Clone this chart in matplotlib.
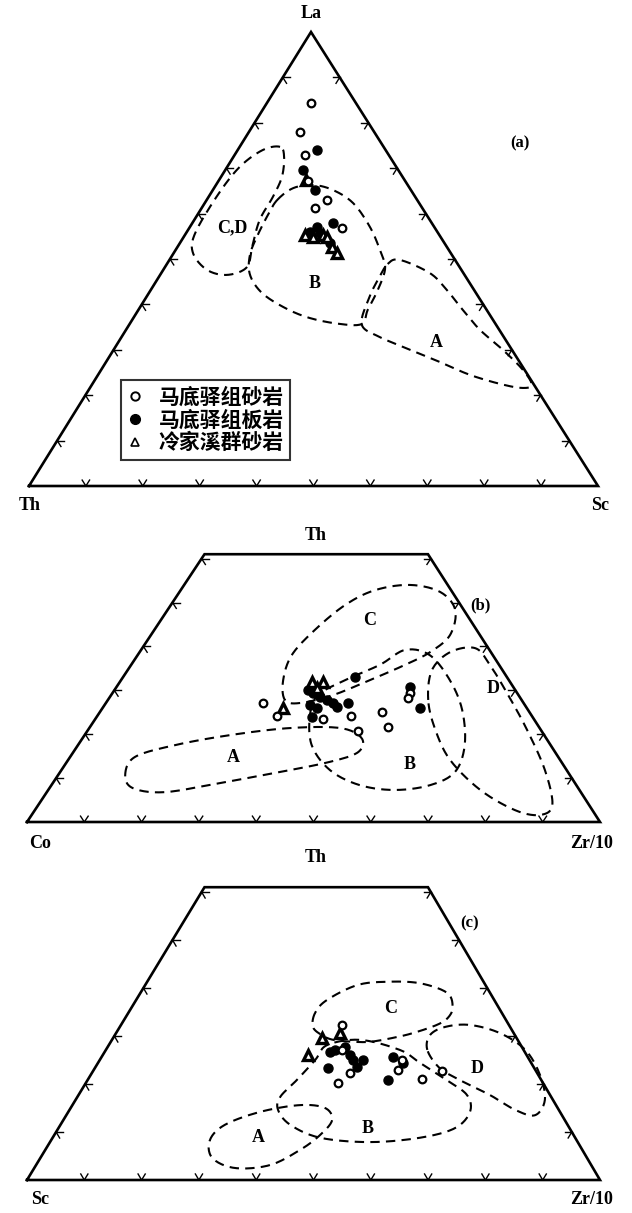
import numpy as np
import matplotlib
matplotlib.use('Agg')
import matplotlib.pyplot as plt
from matplotlib.lines import Line2D

plt.rcParams['font.family'] = ['Noto Sans CJK SC', 'DejaVu Sans']

# ---- sample data, ternary percentages ----
# (a) La-Th-Sc : pairs are (La, Sc)
a_sand = [(84.4, 7.7), (78.0, 9.0), (72.9, 12.4), (67.2, 15.7), (63.0, 21.1),
          (61.2, 19.9), (56.8, 26.8)]
a_slate = [(74.0, 13.9), (69.6, 13.7), (65.2, 17.9), (57.0, 22.3), (57.9, 24.7),
           (55.7, 23.5), (53.5, 26.4), (56.0, 21.7)]
a_ljx = [(67.4, 15.3), (55.3, 21.1), (54.8, 22.7), (55.3, 24.3), (54.8, 25.2),
         (52.6, 27.2), (51.3, 28.7)]

# (b) Th-Co-Zr/10 : pairs are (Th, Zr/10)
b_sand = [(27.1, 27.4), (24.1, 31.4), (23.5, 39.7), (24.1, 44.3), (20.7, 47.2),
          (25.1, 49.2), (21.6, 52.0), (29.4, 51.9), (28.2, 52.1)]
b_slate = [(33.0, 40.5), (30.1, 33.8), (29.4, 35.0), (28.5, 36.7), (27.8, 38.2),
           (27.1, 39.6), (26.2, 40.8), (27.1, 42.3), (26.7, 35.8), (26.0, 37.4),
           (23.9, 37.6), (30.8, 51.2), (26.0, 55.4)]
b_ljx = [(31.9, 33.5), (31.9, 35.5), (30.5, 35.1), (26.0, 31.5)]

# (c) Th-Sc-Zr/10 : pairs are (Th, Zr/10)
c_sand = [(32.3, 38.6), (27.1, 41.2), (22.3, 45.0), (20.2, 44.0), (25.0, 52.7),
          (22.9, 53.1), (21.0, 58.3), (22.7, 60.9)]
c_slate = [(26.7, 39.3), (27.1, 40.0), (27.7, 41.4), (26.0, 43.1), (25.0, 44.2),
           (25.0, 45.9), (23.5, 45.6), (23.3, 40.7), (25.6, 50.9), (20.8, 52.4),
           (24.4, 53.2)]
c_ljx = [(30.6, 39.1), (29.6, 36.5), (26.0, 35.8)]

# tectonic setting fields (A oceanic arc, B continental arc,
# C active margin, D passive margin)
a_fields = {
    'C,D': [(74.7, 7.1), (74.0, 4.4), (70.3, 2.2), (64.1, 1.4), (55.7, 1.6),
            (51.3, 3.4), (47.6, 7.7), (46.5, 11.8), (48.2, 14.4), (52.7, 13.1),
            (58.6, 11.5), (63.7, 11.3), (68.1, 10.7), (72.5, 8.9)],
    'B': [(63.0, 12.4), (65.6, 13.9), (66.3, 17.0), (65.2, 21.1), (62.3, 26.1),
          (57.1, 31.6), (52.0, 35.9), (48.0, 38.8), (43.2, 39.9), (38.8, 40.3),
          (35.7, 40.8), (35.7, 36.9), (37.0, 31.0), (39.2, 25.6), (42.5, 19.9),
          (46.5, 15.8), (50.9, 13.6), (55.3, 12.8), (59.7, 12.4)],
    'A': [(48.9, 38.8), (49.8, 40.5), (46.9, 47.2), (43.2, 52.0), (38.8, 57.0),
          (34.4, 62.2), (30.0, 68.4), (25.6, 74.1), (22.3, 77.3), (21.6, 75.9),
          (22.5, 71.6), (24.5, 65.3), (27.3, 58.7), (30.0, 52.1), (32.8, 45.4),
          (35.5, 40.9), (41.0, 39.3), (45.4, 38.8)],
}
a_field_labels = {'C,D': (56.8, 7.5), 'B': (44.7, 28.1), 'A': (31.5, 55.9)}

b_fields = {
    'A': [(10.7, 11.7), (14.8, 11.3), (17.5, 16.9), (19.8, 25.4), (21.4, 35.0),
          (21.4, 43.8), (19.1, 48.7), (15.9, 49.7), (13.7, 45.9), (11.4, 38.4),
          (8.9, 29.2), (6.8, 20.6), (7.7, 14.6)],
    'C': [(27.8, 30.9), (32.3, 28.3), (38.0, 26.9), (43.7, 28.0), (49.4, 30.4),
          (52.8, 33.9), (54.0, 39.4), (52.4, 45.5), (48.3, 50.2), (42.6, 52.2),
          (38.7, 50.7), (35.8, 47.8), (32.3, 43.4), (28.9, 38.7), (27.1, 33.9)],
    'B': [(24.4, 37.0), (28.9, 36.1), (32.3, 39.1), (35.8, 43.4), (39.2, 46.1),
          (38.0, 51.0), (32.3, 57.4), (25.5, 63.0), (17.5, 67.5), (11.4, 68.9),
          (8.4, 66.1), (7.3, 60.5), (8.4, 53.8), (11.8, 46.9), (17.5, 40.8)],
    'D': [(27.8, 55.9), (34.6, 53.1), (38.7, 54.2), (39.6, 58.1), (35.8, 62.6),
          (28.9, 69.3), (21.0, 76.6), (11.8, 84.4), (3.9, 89.7), (1.6, 88.7),
          (2.7, 83.8), (7.3, 75.4), (14.1, 66.7), (21.0, 60.6)],
}
b_field_labels = {'A': (14.6, 28.6), 'B': (13.0, 60.2), 'C': (46.0, 36.5),
                  'D': (30.5, 65.8)}

c_fields = {
    'A': [(8.3, 27.7), (11.5, 28.7), (14.2, 33.5), (15.6, 39.7), (15.0, 44.4),
          (12.5, 46.9), (9.4, 46.4), (6.3, 44.5), (3.1, 40.8), (2.5, 35.0),
          (4.6, 30.0)],
    'B': [(17.3, 35.4), (20.8, 36.5), (25.0, 37.6), (28.1, 38.1), (29.2, 43.3),
          (27.1, 51.3), (24.4, 56.2), (20.8, 62.7), (17.7, 67.8), (14.2, 70.1),
          (10.8, 69.2), (8.8, 64.1), (7.9, 55.8), (8.8, 46.7), (11.5, 40.1),
          (14.6, 36.4)],
    'C': [(34.8, 32.6), (31.9, 33.7), (30.2, 36.1), (29.2, 38.6), (28.8, 42.3),
          (28.8, 45.3), (29.6, 48.8), (30.6, 51.8), (32.3, 55.1), (33.8, 56.3),
          (36.0, 56.0), (39.0, 53.5), (41.0, 47.7), (41.3, 41.9), (40.6, 37.0),
          (37.5, 33.3)],
    'D': [(27.1, 56.1), (30.2, 55.0), (31.9, 56.8), (32.3, 60.9), (30.6, 67.0),
          (27.1, 73.2), (21.9, 78.4), (16.7, 81.9), (13.5, 81.8), (14.6, 77.8),
          (17.7, 71.8), (20.8, 65.0), (23.3, 60.2)],
}
c_field_labels = {'A': (8.8, 35.9), 'B': (10.8, 54.0), 'C': (35.8, 45.2),
                  'D': (23.3, 66.7)}

legend_labels = ['马底驿组砂岩', '马底驿组板岩', '冷家溪群砂岩']

# ---- panel geometry (figure pixels): bottom-left, bottom-right, apex ----
PANEL_A = dict(left=(29, 486), right=(598, 486), apex=(311, 32), cut=None)
PANEL_B = dict(left=(27, 822), right=(600, 822), apex=(318, 383), cut=0.61)
PANEL_C = dict(left=(27, 1180), right=(600, 1180), apex=(318, 700), cut=0.61)

LATIN = dict(family=['Liberation Serif', 'DejaVu Serif'], fontweight='bold')


def to_xy(panel, top, right):
    """ternary fractions (apex component, bottom-right component) -> pixels"""
    L = np.array(panel['left'], float)
    R = np.array(panel['right'], float)
    T = np.array(panel['apex'], float)
    top = np.asarray(top, float)[..., None]
    right = np.asarray(right, float)[..., None]
    return L + right * (R - L) + top * (T - L)


def pct_xy(panel, pairs):
    arr = np.array(pairs, float) / 100.0
    xy = to_xy(panel, arr[:, 0], arr[:, 1])
    return xy[:, 0], xy[:, 1]


def smooth_closed(x, y, n=14):
    P = np.column_stack([x, y])
    N = len(P)
    out = []
    for i in range(N):
        p0, p1, p2, p3 = P[i - 1], P[i], P[(i + 1) % N], P[(i + 2) % N]
        for s in np.linspace(0, 1, n, endpoint=False):
            out.append(0.5 * (2 * p1 + (-p0 + p2) * s
                              + (2 * p0 - 5 * p1 + 4 * p2 - p3) * s ** 2
                              + (-p0 + 3 * p1 - 3 * p2 + p3) * s ** 3))
    out.append(out[0])
    out = np.array(out)
    return out[:, 0], out[:, 1]


def draw_frame(ax, panel):
    cut = panel['cut']
    if cut is None:
        corners = [to_xy(panel, 0, 0), to_xy(panel, 0, 1), to_xy(panel, 1, 0)]
    else:
        corners = [to_xy(panel, 0, 0), to_xy(panel, 0, 1),
                   to_xy(panel, cut, 1 - cut), to_xy(panel, cut, 0)]
    corners.append(corners[0])
    c = np.array(corners)
    ax.plot(c[:, 0], c[:, 1], color='black', lw=1.9, solid_joinstyle='miter',
            zorder=3)

    # small inward ticks every 10 %, along the two grid directions
    L = np.array(panel['left'], float)
    R = np.array(panel['right'], float)
    T = np.array(panel['apex'], float)
    tlen = 7.0
    top_lim = 1.0 if cut is None else cut
    edges = [(L, R, T), (R, T, L), (T, L, R)]
    for A, B, C in edges:
        d1 = (C - A) / np.linalg.norm(C - A)
        d2 = (C - B) / np.linalg.norm(C - B)
        for f in np.arange(1, 10) / 10.0:
            P = A + f * (B - A)
            # skip ticks above the truncation line
            frac_top = (L[1] - P[1]) / (L[1] - T[1])
            if frac_top > top_lim - 0.005:
                continue
            for d in (d1, d2):
                ax.plot([P[0], P[0] + tlen * d[0]], [P[1], P[1] + tlen * d[1]],
                        color='black', lw=1.0, zorder=3)


def draw_fields(ax, panel, fields, labels):
    for name, pts in fields.items():
        x, y = pct_xy(panel, pts)
        sx, sy = smooth_closed(x, y)
        ax.plot(sx, sy, color='black', lw=1.5, dashes=(4.5, 3.0), zorder=2)
    for name, (t, r) in labels.items():
        x, y = to_xy(panel, t / 100.0, r / 100.0)
        ax.text(x, y, name, ha='center', va='center', fontsize=13, zorder=4,
                **LATIN)


def draw_samples(ax, panel, sand, slate, ljx):
    x, y = pct_xy(panel, slate)
    ax.plot(x, y, 'o', ms=6.5, mfc='black', mec='black', mew=1.0, zorder=5)
    x, y = pct_xy(panel, ljx)
    ax.plot(x, y, '^', ms=6.5, mfc='white', mec='black', mew=2.4, zorder=6)
    x, y = pct_xy(panel, sand)
    ax.plot(x, y, 'o', ms=5.5, mfc='white', mec='black', mew=1.6, zorder=7)


fig = plt.figure(figsize=(6.32, 12.13), dpi=100)
ax = fig.add_axes([0, 0, 1, 1])
ax.set_xlim(0, 632)
ax.set_ylim(1213, 0)
ax.axis('off')

# (a) La - Th - Sc
draw_fields(ax, PANEL_A, a_fields, a_field_labels)
draw_frame(ax, PANEL_A)
draw_samples(ax, PANEL_A, a_sand, a_slate, a_ljx)
ax.text(311, 14, 'La', ha='center', va='center', fontsize=13, **LATIN)
ax.text(30, 506, 'Th', ha='center', va='center', fontsize=13, **LATIN)
ax.text(600, 506, 'Sc', ha='center', va='center', fontsize=13, **LATIN)
ax.text(520, 143, '(a)', ha='center', va='center', fontsize=12, **LATIN)

# legend: open circle / filled circle / open triangle
leg_handles = [
    Line2D([], [], ls='none', marker='o', ms=6, mfc='white', mec='black', mew=1.4),
    Line2D([], [], ls='none', marker='o', ms=7, mfc='black', mec='black'),
    Line2D([], [], ls='none', marker='^', ms=6, mfc='white', mec='black', mew=1.2),
]
leg = ax.legend(leg_handles, legend_labels, loc='upper left',
                bbox_to_anchor=(121 / 632, 1 - 380 / 1213),
                frameon=True, fancybox=False, edgecolor='black',
                handlelength=0.7, handletextpad=0.8, labelspacing=0.1,
                borderpad=0.3, borderaxespad=0,
                prop=dict(family=['Noto Sans CJK SC', 'DejaVu Sans'],
                          weight='bold', size=15))
leg.get_frame().set_linewidth(1.5)

# (b) Th - Co - Zr/10
draw_fields(ax, PANEL_B, b_fields, b_field_labels)
draw_frame(ax, PANEL_B)
draw_samples(ax, PANEL_B, b_sand, b_slate, b_ljx)
ax.text(316, 535, 'Th', ha='center', va='center', fontsize=13, **LATIN)
ax.text(40, 843, 'Co', ha='center', va='center', fontsize=13, **LATIN)
ax.text(592, 843, 'Zr/10', ha='center', va='center', fontsize=13, **LATIN)
ax.text(480, 605, '(b)', ha='center', va='center', fontsize=12, **LATIN)

# (c) Th - Sc - Zr/10
draw_fields(ax, PANEL_C, c_fields, c_field_labels)
draw_frame(ax, PANEL_C)
draw_samples(ax, PANEL_C, c_sand, c_slate, c_ljx)
ax.text(316, 858, 'Th', ha='center', va='center', fontsize=13, **LATIN)
ax.text(40, 1200, 'Sc', ha='center', va='center', fontsize=13, **LATIN)
ax.text(592, 1200, 'Zr/10', ha='center', va='center', fontsize=13, **LATIN)
ax.text(470, 923, '(c)', ha='center', va='center', fontsize=12, **LATIN)

fig.savefig('out.png', dpi=100)
